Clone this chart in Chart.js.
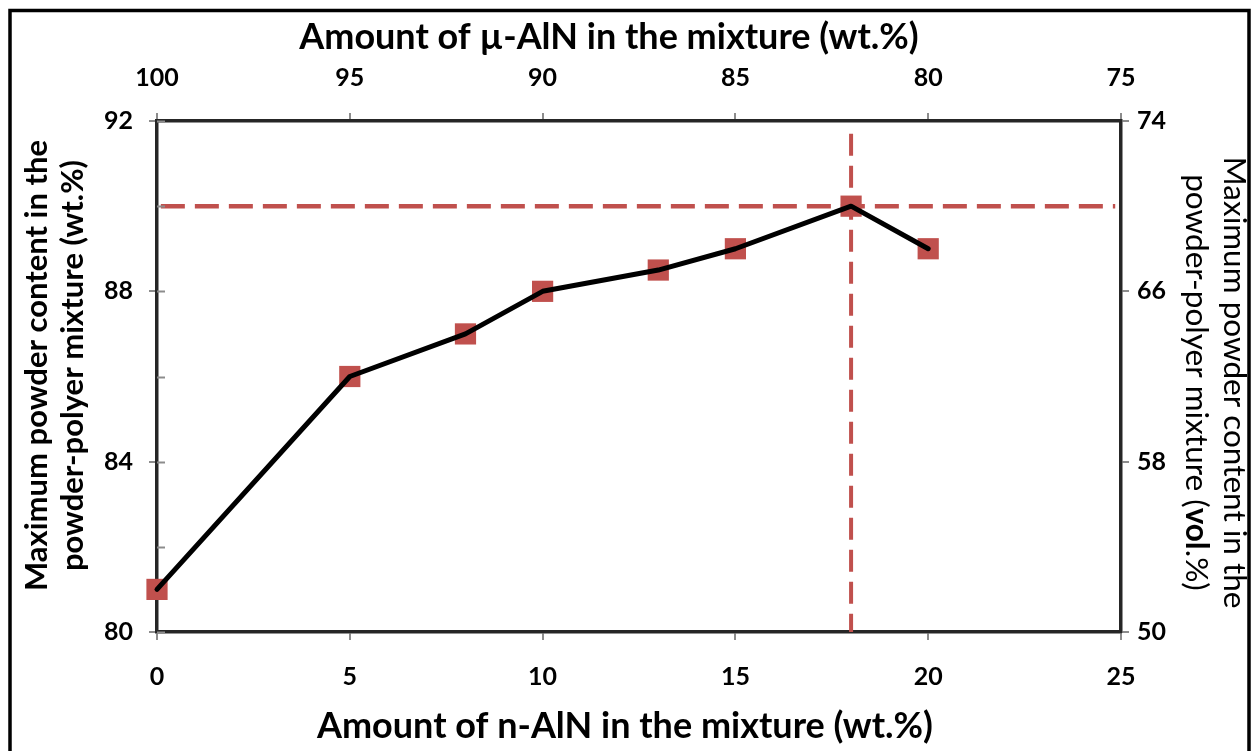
<!DOCTYPE html>
<html>
<head>
<meta charset="utf-8">
<script src="https://cdn.jsdelivr.net/npm/chart.js@4.4.0/dist/chart.umd.min.js"></script>
<style>
  html, body { margin: 0; padding: 0; background: #fff; }
  #wrap { width: 1257px; height: 751px; }
</style>
</head>
<body>
<div id="wrap"><canvas id="chart" width="1257" height="751"></canvas></div>
<script>
// n-AlN loading (wt.%) and the highest powder fraction reached with it (wt.%)
const nAlnPct = [0, 5, 8, 10, 13, 15, 18, 20];
const maxPowderWt = [81, 86, 87, 88, 88.5, 89, 90, 89];

const bottomTicks = [0, 5, 10, 15, 20, 25];
const topTicks = [100, 95, 90, 85, 80, 75];
const leftTicks = [80, 84, 88, 92];
const leftMinorTicks = [82, 86, 90];
const rightTicks = [50, 58, 66, 74];

const FONT = 'Lato, "Open Sans", sans-serif';
const RED = '#c0504d';

// optimum point, marked by the two dashed guide lines
const peak = maxPowderWt.indexOf(Math.max(...maxPowderWt));
const peakX = nAlnPct[peak];
const peakY = maxPowderWt[peak];

const points = nAlnPct.map((x, i) => ({ x, y: maxPowderWt[i] }));

const tickFont = { family: FONT, size: 25, weight: 'bold' };
const axisBorder = { color: '#262626', width: 3.5 };
const tickGrid = { drawOnChartArea: false, tickLength: 8, color: '#8c8c8c', tickColor: '#8c8c8c', lineWidth: 2 };
const setTicks = list => scale => { scale.ticks = list.map(v => ({ value: v })); };

function drawRuns(ctx, lines, cx, cy, rot, size, gap) {
  ctx.save();
  ctx.translate(cx, cy);
  ctx.rotate(rot);
  ctx.fillStyle = '#000';
  ctx.textBaseline = 'middle';
  ctx.textAlign = 'left';
  lines.forEach((runs, i) => {
    const fonts = runs.map(r => (r.bold ? 'bold ' : '') + size + 'px ' + FONT);
    let total = 0;
    runs.forEach((r, j) => { ctx.font = fonts[j]; total += ctx.measureText(r.text).width; });
    let x = -total / 2;
    runs.forEach((r, j) => {
      ctx.font = fonts[j];
      ctx.fillText(r.text, x, i * gap);
      x += ctx.measureText(r.text).width;
    });
  });
  ctx.restore();
}

const decorations = {
  id: 'decorations',
  afterDraw(chart) {
    const { ctx, chartArea: a } = chart;
    const y = chart.scales.y;

    // inward tick marks on the left axis
    ctx.save();
    ctx.strokeStyle = '#8c8c8c';
    ctx.lineWidth = 2;
    leftTicks.concat(leftMinorTicks).forEach(v => {
      const py = Math.round(y.getPixelForValue(v)) + 0.5;
      ctx.beginPath();
      ctx.moveTo(a.left, py);
      ctx.lineTo(a.left + 8, py);
      ctx.stroke();
    });

    // outer frame
    ctx.strokeStyle = '#000';
    ctx.lineWidth = 3.5;
    ctx.beginPath();
    ctx.moveTo(10, chart.height);
    ctx.lineTo(10, 10.5);
    ctx.lineTo(1249, 10.5);
    ctx.lineTo(1249, chart.height);
    ctx.stroke();
    ctx.restore();

    const midX = (a.left + a.right) / 2;
    const midY = (a.top + a.bottom) / 2;
    drawRuns(ctx, [[{ text: 'Amount of µ-AlN in the mixture (wt.%)', bold: true }]],
      midX - 30, a.top - 84, 0, 36, 0);
    drawRuns(ctx, [[{ text: 'Amount of n-AlN in the mixture (wt.%)', bold: true }]],
      midX - 14, a.bottom + 94, 0, 36, 0);
    drawRuns(ctx, [
      [{ text: 'Maximum powder content in the', bold: true }],
      [{ text: 'powder-polyer mixture (wt.%)', bold: true }]
    ], 37, midY - 11, -Math.PI / 2, 31, 36);
    drawRuns(ctx, [
      [{ text: 'Maximum powder content in the' }],
      [{ text: 'powder-polyer mixture (' }, { text: 'vol', bold: true }, { text: '.%)' }]
    ], 1234, midY + 6, Math.PI / 2, 31.5, 38);
  }
};

new Chart(document.getElementById('chart'), {
  type: 'scatter',
  data: {
    datasets: [
      {
        type: 'line',
        data: points,
        borderColor: '#000',
        borderWidth: 5,
        borderCapStyle: 'round',
        borderJoinStyle: 'round',
        pointRadius: 0,
        tension: 0,
        clip: false,
        order: 1
      },
      {
        data: points,
        pointStyle: 'rect',
        pointRadius: 15,
        pointBackgroundColor: RED,
        pointBorderColor: RED,
        pointBorderWidth: 0,
        clip: false,
        order: 2
      },
      {
        type: 'line',
        data: [{ x: 0.1, y: peakY }, { x: 24.85, y: peakY }],
        borderColor: RED,
        borderWidth: 4.5,
        borderDash: [24, 10],
        pointRadius: 0,
        clip: false,
        order: 3
      },
      {
        type: 'line',
        data: [{ x: peakX, y: 91.7 }, { x: peakX, y: 80 }],
        borderColor: RED,
        borderWidth: 4,
        borderDash: [22, 10],
        pointRadius: 0,
        clip: false,
        order: 3
      }
    ]
  },
  options: {
    responsive: false,
    animation: false,
    layout: { padding: 0 },
    plugins: { legend: { display: false }, tooltip: { enabled: false } },
    scales: {
      x: {
        type: 'linear', position: 'bottom', min: 0, max: 25,
        afterBuildTicks: setTicks(bottomTicks),
        afterFit: s => { s.height = 119; },
        ticks: { font: tickFont, color: '#000', padding: 22, maxRotation: 0 },
        grid: tickGrid, border: axisBorder
      },
      x2: {
        type: 'linear', position: 'top', min: 75, max: 100, reverse: true,
        afterBuildTicks: setTicks(topTicks),
        afterFit: s => { s.height = 121; },
        ticks: { font: tickFont, color: '#000', padding: 20, maxRotation: 0 },
        grid: tickGrid, border: axisBorder
      },
      y: {
        type: 'linear', position: 'left', min: 80, max: 92,
        afterBuildTicks: setTicks(leftTicks),
        afterFit: s => { s.width = 157; },
        ticks: { font: tickFont, color: '#000', padding: 16 },
        grid: tickGrid, border: axisBorder
      },
      y2: {
        type: 'linear', position: 'right', min: 50, max: 74,
        afterBuildTicks: setTicks(rightTicks),
        afterFit: s => { s.width = 136; },
        ticks: { font: tickFont, color: '#000', padding: 8 },
        grid: tickGrid, border: axisBorder
      }
    }
  },
  plugins: [decorations]
});
</script>
</body>
</html>
